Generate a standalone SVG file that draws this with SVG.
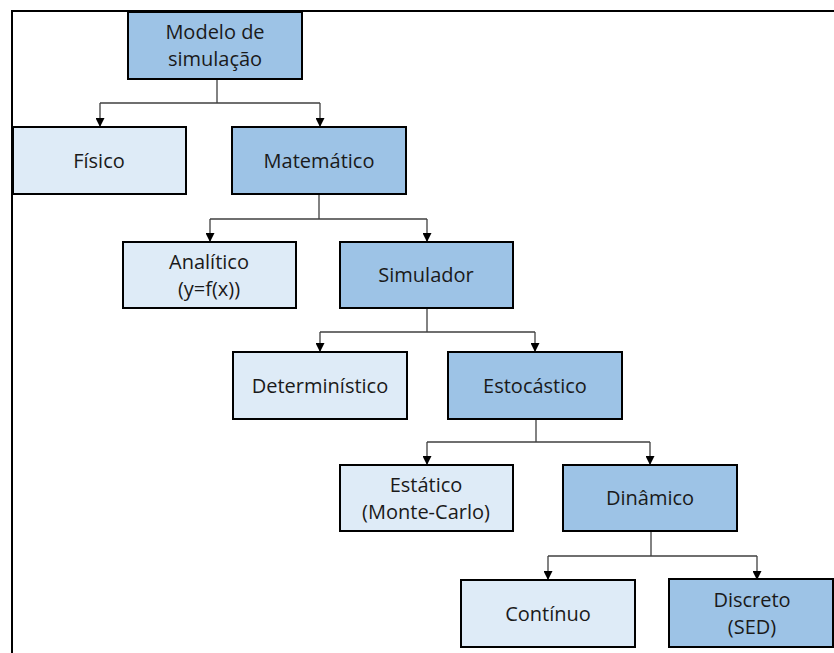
<svg xmlns="http://www.w3.org/2000/svg" width="834" height="653" viewBox="0 0 834 653">
  <defs>
    <marker id="arrow" viewBox="0 0 10 10" refX="10" refY="5" markerWidth="9" markerHeight="9" markerUnits="userSpaceOnUse" orient="auto">
      <path d="M0,0 L10,5 L0,10 Z" fill="#000"/>
    </marker>
    <style>
      .dark { fill: #9DC3E6; stroke: #000; stroke-width: 2; }
      .light { fill: #DEEBF7; stroke: #000; stroke-width: 2; }
      text { font-family: "Open Sans", "Noto Sans", "Liberation Sans", sans-serif; font-size: 20px; fill: #1a1a1a; text-anchor: middle; }
      .conn { fill: none; stroke: #404040; stroke-width: 1.3; }
    </style>
  </defs>
  <rect width="834" height="653" fill="#fff"/>
  <!-- frame lines -->
  <path d="M12,653 V11 H834" fill="none" stroke="#000" stroke-width="2"/>

  <g id="connectors">
    <path class="conn" d="M217,79 V103 M100,103 H320"/>
    <path class="conn" d="M100,103 V127" marker-end="url(#arrow)"/>
    <path class="conn" d="M320,103 V127" marker-end="url(#arrow)"/>

    <path class="conn" d="M319,194 V219 M210,219 H427"/>
    <path class="conn" d="M210,219 V242" marker-end="url(#arrow)"/>
    <path class="conn" d="M427,219 V242" marker-end="url(#arrow)"/>

    <path class="conn" d="M427,308 V332 M320,332 H535"/>
    <path class="conn" d="M320,332 V352" marker-end="url(#arrow)"/>
    <path class="conn" d="M535,332 V352" marker-end="url(#arrow)"/>

    <path class="conn" d="M536,419 V442 M427,442 H650"/>
    <path class="conn" d="M427,442 V465" marker-end="url(#arrow)"/>
    <path class="conn" d="M650,442 V465" marker-end="url(#arrow)"/>

    <path class="conn" d="M651,531 V556 M548,556 H757"/>
    <path class="conn" d="M548,556 V580" marker-end="url(#arrow)"/>
    <path class="conn" d="M757,556 V580" marker-end="url(#arrow)"/>
  </g>

  <g id="modelo">
    <rect class="dark" x="128" y="12" width="174" height="67"/>
    <text x="215" y="39">Modelo de</text>
    <text x="215" y="66">simulação</text>
  </g>
  <g id="fisico">
    <rect class="light" x="13" y="127" width="173" height="67"/>
    <text x="99" y="168">Físico</text>
  </g>
  <g id="matematico">
    <rect class="dark" x="232" y="127" width="174" height="67"/>
    <text x="319" y="168">Matemático</text>
  </g>
  <g id="analitico">
    <rect class="light" x="123" y="242" width="173" height="66"/>
    <text x="209" y="269">Analítico</text>
    <text x="209" y="296">(y=f(x))</text>
  </g>
  <g id="simulador">
    <rect class="dark" x="340" y="242" width="173" height="66"/>
    <text x="426" y="282">Simulador</text>
  </g>
  <g id="deterministico">
    <rect class="light" x="233" y="352" width="174" height="67"/>
    <text x="320" y="393">Determinístico</text>
  </g>
  <g id="estocastico">
    <rect class="dark" x="448" y="352" width="174" height="67"/>
    <text x="535" y="393">Estocástico</text>
  </g>
  <g id="estatico">
    <rect class="light" x="340" y="465" width="173" height="66"/>
    <text x="426" y="492">Estático</text>
    <text x="426" y="519">(Monte-Carlo)</text>
  </g>
  <g id="dinamico">
    <rect class="dark" x="563" y="465" width="174" height="66"/>
    <text x="650" y="505">Dinâmico</text>
  </g>
  <g id="continuo">
    <rect class="light" x="461" y="580" width="174" height="67"/>
    <text x="548" y="621">Contínuo</text>
  </g>
  <g id="discreto">
    <rect class="dark" x="669" y="579" width="164" height="68"/>
    <text x="752" y="607">Discreto</text>
    <text x="752" y="634">(SED)</text>
  </g>
</svg>
